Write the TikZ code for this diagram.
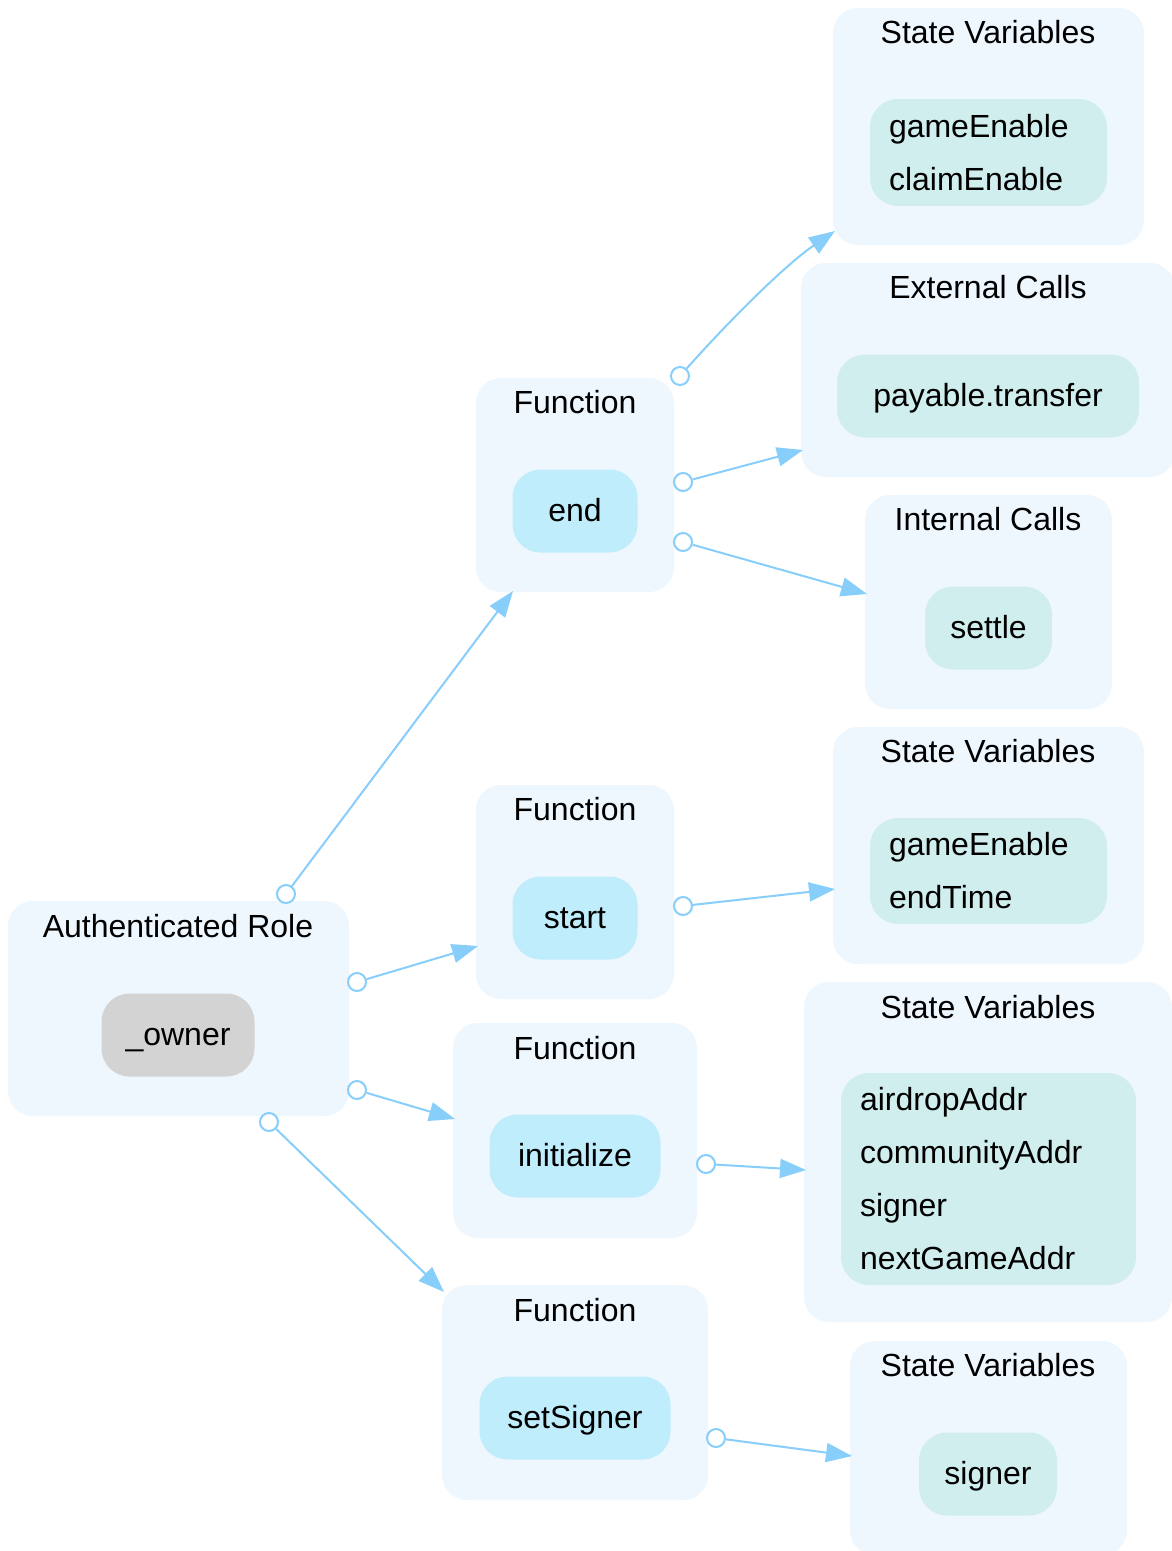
\documentclass[tikz,border=0pt]{standalone}
\usepackage{fontspec}
\setmainfont{Liberation Sans}
\usetikzlibrary{arrows.meta}
\definecolor{clusterbg}{HTML}{EFF7FE}
\definecolor{fnfill}{HTML}{BFEDFC}
\definecolor{varfill}{HTML}{D0EEED}
\definecolor{ownerfill}{HTML}{D3D3D3}
\definecolor{edgecol}{HTML}{87CEFA}
\tikzset{
  cluster/.style={fill=clusterbg, draw=none, rounded corners=25pt, inner sep=0pt},
  title/.style={anchor=base, inner sep=0pt, font=\fontsize{32}{38}\selectfont},
  item/.style={draw=none, rounded corners=28pt, minimum height=83pt, inner sep=0pt,
    text height=25pt, text depth=5pt, font=\fontsize{32}{38}\selectfont},
  fnitem/.style={item, fill=fnfill},
  varitem/.style={item, fill=varfill},
  owneritem/.style={item, fill=ownerfill},
  listitem/.style={fill=varfill, draw=none, rounded corners=28pt, align=left,
    inner xsep=19pt, inner ysep=0pt, font=\fontsize{32}{53}\selectfont},
  tail/.style={circle, draw=edgecol, fill=white, line width=2pt, minimum size=18pt, inner sep=0pt},
  edge/.style={draw=edgecol, line width=2pt, -{Triangle[length=26pt,width=19pt]}, edgecol},
}
\begin{document}
\begin{tikzpicture}[x=1pt,y=-1pt]
\useasboundingbox[fill=white] (0,0) rectangle (1172,1551);

% caller role
\node[cluster, minimum width=341pt, minimum height=215pt] (auth) at (178.5,1008.5) {};
\node[title] (authT) at (178,937) {Authenticated Role};
\node[owneritem, minimum width=153pt] (owner) at (178,1035) {\_owner};

% functions
\node[cluster, minimum width=198pt, minimum height=214pt] (fend) at (575,485) {};
\node[title] (fendT) at (575,413) {Function};
\node[fnitem, minimum width=125pt] (endN) at (575,511) {end};

\node[cluster, minimum width=198pt, minimum height=214pt] (fstart) at (575,892) {};
\node[title] (fstartT) at (575,820) {Function};
\node[fnitem, minimum width=125pt] (startN) at (575,918) {start};

\node[cluster, minimum width=244pt, minimum height=215pt] (finit) at (575,1130.5) {};
\node[title] (finitT) at (575,1059) {Function};
\node[fnitem, minimum width=171pt] (initN) at (575,1156) {initialize};

\node[cluster, minimum width=266pt, minimum height=215pt] (fset) at (575,1392.5) {};
\node[title] (fsetT) at (575,1321) {Function};
\node[fnitem, minimum width=191pt] (setN) at (575,1418) {setSigner};

% what end touches
\node[cluster, minimum width=311pt, minimum height=237pt] (sv1) at (988.5,126.5) {};
\node[title] (sv1T) at (988,43) {State Variables};
\node[listitem, text width=199pt, minimum height=107pt] (sv1N) at (988.5,152.5) {gameEnable\\claimEnable};

\node[cluster, minimum width=374pt, minimum height=214pt] (ext) at (988,370) {};
\node[title] (extT) at (988,298) {External Calls};
\node[varitem, minimum width=302pt] (extN) at (988,396) {payable.transfer};

\node[cluster, minimum width=247pt, minimum height=214pt] (int) at (988.5,602) {};
\node[title] (intT) at (988,530) {Internal Calls};
\node[varitem, minimum width=127pt] (intN) at (988.5,628) {settle};

% what start touches
\node[cluster, minimum width=311pt, minimum height=237pt] (sv2) at (988.5,845.5) {};
\node[title] (sv2T) at (988,762) {State Variables};
\node[listitem, text width=199pt, minimum height=106pt] (sv2N) at (988.5,871) {gameEnable\\endTime};

% what initialize touches
\node[cluster, minimum width=368pt, minimum height=340pt] (sv3) at (988,1152) {};
\node[title] (sv3T) at (988,1018) {State Variables};
\node[listitem, text width=257pt, minimum height=212pt] (sv3N) at (988.5,1179)
  {airdropAddr\\communityAddr\\signer\\nextGameAddr};

% what setSigner touches
\node[cluster, minimum width=277pt, minimum height=214pt] (sv4) at (988.5,1448) {};
\node[title] (sv4T) at (988,1376) {State Variables};
\node[varitem, minimum width=138pt] (sv4N) at (988,1474) {signer};

% edge ends
\coordinate (tA1) at (513,591);
\coordinate (tA2) at (478,946);
\coordinate (tA3) at (455,1119);
\coordinate (tA4) at (444,1292);
\coordinate (tE1) at (835,231);
\coordinate (tE2) at (803,450);
\coordinate (tE3) at (867,594);
\coordinate (tS1) at (835,889);
\coordinate (tI1) at (806,1170);
\coordinate (tG1) at (852,1456);

% edge tails
\node[tail] (cA1) at (286,894) {};
\node[tail] (cA2) at (357,982) {};
\node[tail] (cA3) at (357,1090) {};
\node[tail] (cA4) at (269,1122) {};
\node[tail] (cE1) at (680,376) {};
\node[tail] (cE2) at (683,482) {};
\node[tail] (cE3) at (683,542) {};
\node[tail] (cS1) at (683,906) {};
\node[tail] (cI1) at (706,1164) {};
\node[tail] (cG1) at (716,1438) {};

% connectors
\draw[edge] (cA1) -- (tA1);
\draw[edge] (cA2) -- (tA2);
\draw[edge] (cA3) -- (tA3);
\draw[edge] (cA4) -- (tA4);
\draw[edge] (cE1) .. controls (728,322) and (785,265) .. (tE1);
\draw[edge] (cE2) -- (tE2);
\draw[edge] (cE3) -- (tE3);
\draw[edge] (cS1) -- (tS1);
\draw[edge] (cI1) -- (tI1);
\draw[edge] (cG1) -- (tG1);
\end{tikzpicture}
\end{document}
